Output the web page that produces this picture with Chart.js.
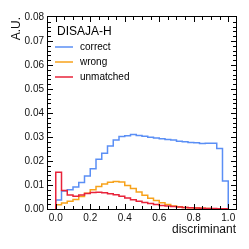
<!DOCTYPE html>
<html>
<head>
<meta charset="utf-8">
<script src="https://cdn.jsdelivr.net/npm/chart.js@4.4.0/dist/chart.umd.min.js"></script>
<style>
html, body { margin: 0; padding: 0; background: #fff; }
#wrap { width: 249px; height: 249px; }
</style>
</head>
<body>
<div id="wrap"><canvas id="c"></canvas></div>
<script>
// 30 bins between 0 and 1
const binWidth = 1 / 30;
const correct = [0.0037, 0.0075, 0.0080, 0.0092, 0.0110, 0.0137, 0.0168, 0.0207, 0.0232, 0.0262,
                 0.0287, 0.0302, 0.0305, 0.0310, 0.0306, 0.0303, 0.0299, 0.0296, 0.0293, 0.0290,
                 0.0287, 0.0282, 0.0280, 0.0277, 0.0276, 0.0273, 0.0274, 0.0274, 0.0252, 0.0117];
const wrong = [0.0018, 0.0025, 0.0032, 0.0040, 0.0052, 0.0066, 0.0080, 0.0094, 0.0104, 0.0111,
               0.0115, 0.0112, 0.0098, 0.0085, 0.0071, 0.0057, 0.0045, 0.0035, 0.0026, 0.0019,
               0.0013, 0.0009, 0.0006, 0.0005, 0.0004, 0.0003, 0.0002, 0.00015, 0.0001, 0.00005];
const unmatched = [0.0153, 0.0077, 0.0058, 0.0053, 0.0058, 0.0065, 0.0069, 0.0070, 0.0068, 0.0064,
                   0.0059, 0.0053, 0.0046, 0.0039, 0.0032, 0.0027, 0.0023, 0.0019, 0.0015, 0.0012,
                   0.0010, 0.0008, 0.0006, 0.0005, 0.0004, 0.0003, 0.00025, 0.0002, 0.00015, 0.0001];

const seriesNames = ['correct', 'wrong', 'unmatched'];
const seriesColors = ['#5b8ff5', '#f7a21b', '#e8233a'];
const legendTitle = 'DISAJA-H';
const xTicks = [0, 0.2, 0.4, 0.6, 0.8, 1.0];
const yTicks = [0, 0.01, 0.02, 0.03, 0.04, 0.05, 0.06, 0.07, 0.08];

// points at the bin edges: each bin value runs from its left edge to the next edge
function histPoints(vals) {
  const pts = [{x: 0, y: 0}];
  vals.forEach((v, i) => pts.push({x: (i + 1) * binWidth, y: v}));
  pts.push({x: vals.length * binWidth, y: 0});
  return pts;
}

// inward ticks on all four sides + frame, ROOT style
const frame = {
  id: 'frame',
  afterDraw(chart) {
    const {ctx, chartArea: a, scales: {x, y}} = chart;
    ctx.save();
    ctx.strokeStyle = '#000';
    ctx.lineWidth = 1;
    ctx.strokeRect(a.left - 0.5, a.top - 0.5, a.right - a.left + 1, a.bottom - a.top + 1);
    ctx.beginPath();
    for (let i = 0; i < yTicks.length - 1; i++) {
      for (let j = 0; j < 5; j++) {
        const v = yTicks[i] + (yTicks[i + 1] - yTicks[i]) * j / 5;
        const py = Math.round(y.getPixelForValue(v)) + 0.5;
        const len = j === 0 ? 5 : 3;
        ctx.moveTo(a.left, py); ctx.lineTo(a.left + len, py);
        ctx.moveTo(a.right, py); ctx.lineTo(a.right - len, py);
      }
    }
    for (let i = 0; i < xTicks.length; i++) {
      for (let j = 0; j < 4; j++) {
        const v = xTicks[i] + 0.05 * j;
        if (v > x.max) break;
        const px = Math.round(x.getPixelForValue(v)) + 0.5;
        const len = j === 0 ? 5 : 3;
        ctx.moveTo(px, a.bottom); ctx.lineTo(px, a.bottom - len);
        ctx.moveTo(px, a.top); ctx.lineTo(px, a.top + len);
      }
    }
    ctx.stroke();

    // legend
    ctx.fillStyle = '#000';
    ctx.textBaseline = 'middle';
    ctx.textAlign = 'left';
    ctx.font = '12px "Liberation Sans", Arial, sans-serif';
    ctx.fillText(legendTitle, a.left + 9, a.top + 15);
    ctx.font = '10px "Liberation Sans", Arial, sans-serif';
    chart.data.datasets.forEach((ds, i) => {
      const ly = a.top + 30 + i * 15;
      ctx.strokeStyle = ds.borderColor;
      ctx.lineWidth = 1.5;
      ctx.beginPath();
      ctx.moveTo(a.left + 7, ly); ctx.lineTo(a.left + 25, ly);
      ctx.stroke();
      ctx.fillText(ds.label, a.left + 32, ly);
    });
    ctx.restore();
  }
};

new Chart(document.getElementById('c'), {
  type: 'line',
  data: {
    datasets: [
      {label: seriesNames[0], data: histPoints(correct), borderColor: seriesColors[0], order: 2},
      {label: seriesNames[1], data: histPoints(wrong), borderColor: seriesColors[1], order: 1},
      {label: seriesNames[2], data: histPoints(unmatched), borderColor: seriesColors[2], order: 0}
    ].map(d => Object.assign(d, {stepped: 'after', borderWidth: 1.5, pointRadius: 0, fill: false}))
  },
  options: {
    responsive: true,
    maintainAspectRatio: false,
    animation: false,
    layout: {padding: {left: 0, top: 17, right: 13, bottom: 0}},
    plugins: {legend: {display: false}, tooltip: {enabled: false}},
    scales: {
      x: {
        type: 'linear', min: -0.045, max: 1.045,
        grid: {display: false, drawTicks: false},
        border: {display: false},
        afterBuildTicks: s => { s.ticks = xTicks.map(v => ({value: v})); },
        afterFit: s => { s.height = 40; },
        ticks: {
          padding: 3, color: '#111', maxRotation: 0, autoSkip: false,
          font: {family: '"Liberation Sans", Arial, sans-serif', size: 10},
          callback: v => v.toFixed(1)
        },
        title: {
          display: true, text: 'discriminant', align: 'end', color: '#111',
          font: {family: '"Liberation Sans", Arial, sans-serif', size: 12},
          padding: {top: 0, bottom: 12}
        }
      },
      y: {
        type: 'linear', min: 0, max: 0.08,
        grid: {display: false, drawTicks: false},
        border: {display: false},
        afterBuildTicks: s => { s.ticks = yTicks.map(v => ({value: v})); },
        afterFit: s => { s.width = 48; },
        ticks: {
          padding: 4, color: '#111', autoSkip: false,
          font: {family: '"Liberation Sans", Arial, sans-serif', size: 10},
          callback: v => v.toFixed(2)
        },
        title: {
          display: true, text: 'A.U.', align: 'end', color: '#111',
          font: {family: '"Liberation Sans", Arial, sans-serif', size: 12},
          padding: {top: 9, bottom: 0}
        }
      }
    }
  },
  plugins: [frame]
});
</script>
</body>
</html>
